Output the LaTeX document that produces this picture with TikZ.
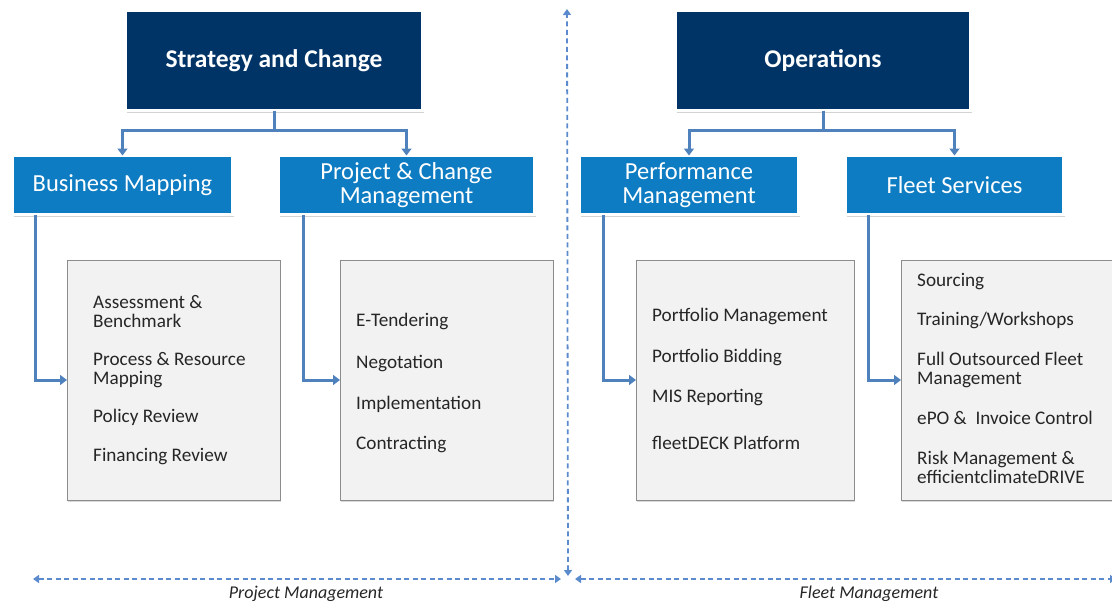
\documentclass[tikz,border=0pt]{standalone}
\usepackage{fontspec}
\setmainfont{Carlito}
\usetikzlibrary{arrows.meta,shadows}
\definecolor{navy}{RGB}{0,51,102}
\definecolor{midblue}{RGB}{14,124,194}
\definecolor{connc}{RGB}{79,129,189}
\definecolor{dashc}{RGB}{91,139,205}
\definecolor{grayfill}{RGB}{242,242,242}
\definecolor{grayline}{RGB}{140,140,140}
\tikzset{
  topbox/.style={rectangle, fill=navy, draw=white, line width=3pt, inner sep=0pt, outer sep=0pt,
    text=white, font=\fontsize{25.5}{27}\selectfont\bfseries,
    drop shadow={shadow xshift=1pt, shadow yshift=-2pt, opacity=0.35}},
  subbox/.style={rectangle, fill=midblue, draw=white, line width=3pt, inner sep=0pt, outer sep=0pt,
    text=white, align=center, font=\fontsize{24.5}{24.5}\selectfont, minimum height=59pt,
    drop shadow={shadow xshift=1pt, shadow yshift=-2pt, opacity=0.35}},
  itembox/.style={rectangle, fill=grayfill, draw=grayline, line width=0.8pt, inner sep=0pt, outer sep=0pt,
    minimum height=240pt,
    drop shadow={shadow xshift=1pt, shadow yshift=-2pt, opacity=0.3}},
  itemtext/.style={anchor=base west, inner sep=0pt, align=left, text=black!85,
    font=\fontsize{19.2}{18.8}\selectfont},
  conn/.style={draw=connc, line width=3pt, -{Triangle[width=10pt,length=7pt]}},
  dconn/.style={draw=dashc, line width=1.8pt, dash pattern=on 5pt off 3.5pt,
    {Triangle[width=8pt,length=6pt]}-{Triangle[width=8pt,length=6pt]}},
  bottomlabel/.style={inner sep=0pt, anchor=base, font=\fontsize{18}{20}\selectfont\itshape, text=black!85}
}
\begin{document}
\begin{tikzpicture}[x=1pt,y=-1pt]
\useasboundingbox (0,0) rectangle (1112,605);
\clip (0,0) rectangle (1112,605);
% top boxes
\node[topbox, minimum width=297pt, minimum height=100pt] (sc) at (274,60.5) {Strategy and Change};
\node[topbox, minimum width=295pt, minimum height=100pt] (op) at (823,60.5) {Operations};
% second level
\node[subbox, minimum width=220pt] (bm) at (122.5,185) {Business Mapping};
\node[subbox, minimum width=256pt] (pcm) at (406.5,185) {Project \& Change\\Management};
\node[subbox, minimum width=219pt] (pm) at (689,185) {Performance\\Management};
\node[subbox, minimum width=218pt] (fs) at (954.5,185) {Fleet Services};
% item boxes
\node[itembox, minimum width=213pt] (g1) at (173.5,380) {};
\node[itembox, minimum width=213pt] (g2) at (446.5,380) {};
\node[itembox, minimum width=218pt] (g3) at (745,380) {};
\node[itembox, minimum width=216pt] (g4) at (1009,380) {};
% connectors
\draw[conn] (sc.south) -- ++(0,20) -| (bm.north);
\draw[conn] (sc.south) -- ++(0,20) -| (pcm.north);
\draw[conn] (op.south) -- ++(0,20) -| (pm.north);
\draw[conn] (op.south) -- ++(0,20) -| (fs.north);
\draw[conn] ([xshift=22.5pt]bm.south west) |- (g1.west);
\draw[conn] ([xshift=24.5pt]pcm.south west) |- (g2.west);
\draw[conn] ([xshift=23.5pt]pm.south west) |- (g3.west);
\draw[conn] ([xshift=22.5pt]fs.south west) |- (g4.west);
% items box 1 (base = last line)
\node[itemtext] (a1) at (93,327.3) {Assessment \&\\Benchmark};
\node[itemtext] (a2) at (93,384) {Process \& Resource\\Mapping};
\node[itemtext] (a3) at (93,422.7) {Policy Review};
\node[itemtext] (a4) at (93,461) {Financing Review};
% items box 2
\node[itemtext] (b1) at (356,326.7) {E-Tendering};
\node[itemtext] (b2) at (356,368.3) {Negotation};
\node[itemtext] (b3) at (356,409.3) {Implementation};
\node[itemtext] (b4) at (356,449.3) {Contracting};
% items box 3
\node[itemtext] (c1) at (652,321.7) {Portfolio Management};
\node[itemtext] (c2) at (652,362.3) {Portfolio Bidding};
\node[itemtext] (c3) at (652,402.3) {MIS Reporting};
\node[itemtext] (c4) at (652,449.3) {fleetDECK Platform};
% items box 4
\node[itemtext] (d1) at (917,286) {Sourcing};
\node[itemtext] (d2) at (917,325) {Training/Workshops};
\node[itemtext] (d3) at (917,384) {Full Outsourced Fleet\\Management};
\node[itemtext] (d4) at (917,424.3) {ePO \&\ \ Invoice Control};
\node[itemtext] (d5) at (917,483.3) {Risk Management \&\\efficientclimateDRIVE};
% dashed dividers
\coordinate (vtop) at (567,9);
\coordinate (vbot) at (568,576);
\draw[dconn] (vbot) -- (vtop);
\coordinate (hl1) at (33,579);
\coordinate (hr1) at (561,579);
\coordinate (hl2) at (575,579);
\coordinate (hr2) at (1116,579);
\draw[dconn] (hl1) -- (hr1);
\draw[dconn] (hl2) -- (hr2);
\node[bottomlabel] (lpm) at (306,598) {Project Management};
\node[bottomlabel] (lfm) at (869,598) {Fleet Management};
\end{tikzpicture}
\end{document}
